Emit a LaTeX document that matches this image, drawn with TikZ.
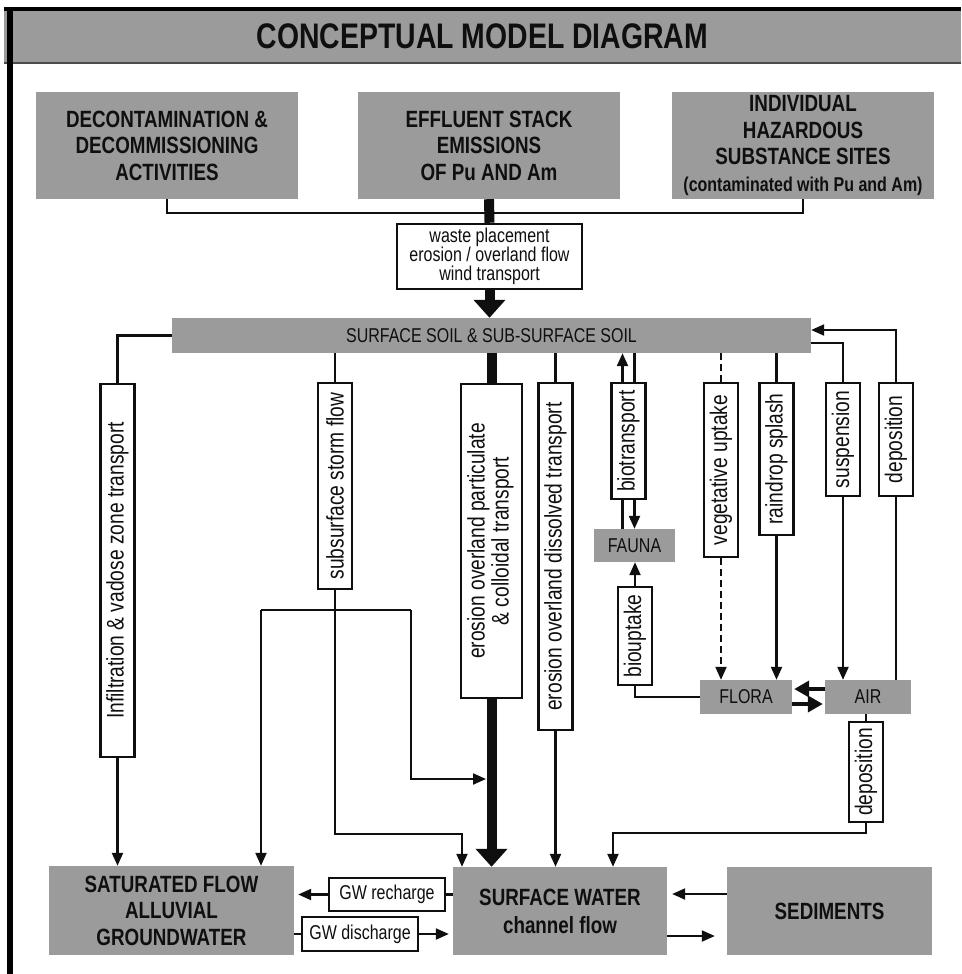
\documentclass[tikz,border=0pt]{standalone}
\usepackage{fontspec}
\setmainfont{Liberation Sans}[FakeStretch=0.8]
\usetikzlibrary{arrows.meta,calc}
\definecolor{boxgray}{RGB}{155,155,155}
\definecolor{ink}{RGB}{15,15,15}
\tikzset{
  gbox/.style={fill=boxgray, draw=none, inner sep=0pt, align=center, text=ink},
  wbox/.style={draw=ink, line width=2.5pt, fill=white, inner sep=0pt, align=center, text=ink},
  vbox/.style={wbox, minimum width=34pt, font=\fontsize{24}{25}\selectfont},
  conn/.style={draw=ink, line width=2.2pt},
  arr/.style={conn, -{Triangle[length=13pt,width=11pt]}},
  tarr/.style={draw=ink, line width=4.5pt, -{Triangle[length=15pt,width=16pt]}},
  thick bar/.style={draw=ink, line width=10pt},
  bigfont/.style={font=\fontsize{23.5}{26.5}\selectfont\bfseries},
  lab/.style={font=\fontsize{20}{19}\selectfont},
}
\begin{document}
\begin{tikzpicture}[x=1pt,y=-1pt]
\useasboundingbox (0,0) rectangle (961,974);
\fill[white] (0,0) rectangle (961,974);
% title bar and frame
\node[gbox, minimum width=957pt, minimum height=54pt, font=\fontsize{35.5}{36}\selectfont\bfseries] (title) at (482.5,36) {CONCEPTUAL MODEL DIAGRAM};
\draw[black!70, line width=2pt] (title.south west) -- (title.south east);
\draw[black, line width=4pt] (title.north west) -- (title.north east);
\draw[black, line width=6pt] (10,9) -- (10,974);
% top sources
\node[gbox, bigfont, minimum width=262pt, minimum height=107pt] (decon) at (167,145.5) {DECONTAMINATION \&\\DECOMMISSIONING\\ACTIVITIES};
\node[gbox, bigfont, minimum width=262pt, minimum height=107pt] (eff) at (489,145.5) {EFFLUENT STACK\\EMISSIONS\\OF Pu AND Am};
\node[gbox, bigfont, minimum width=262pt, minimum height=107pt] (ind) at (803,145.5) {INDIVIDUAL\\HAZARDOUS\\SUBSTANCE SITES\\{\fontsize{20}{22}\selectfont(contaminated with Pu and Am)}};
\node[wbox, lab, minimum width=185pt, minimum height=65pt] (waste) at (489.5,256.5) {waste placement\\erosion / overland flow\\wind transport};
\node[gbox, lab, minimum width=639pt, minimum height=35pt] (soil) at (491.5,335.5) {SURFACE SOIL \& SUB-SURFACE SOIL};
% vertical process boxes
\node[vbox, minimum height=373pt] (infil) at (117.5,570.5) {\rotatebox{90}{Infiltration \& vadose zone transport}};
\node[vbox, minimum height=206pt] (subs) at (335,486) {\rotatebox{90}{subsurface storm flow}};
\node[vbox, minimum width=61pt, minimum height=314pt] (part) at (491.5,541) {\rotatebox{90}{\begin{tabular}{@{}c@{}}erosion overland particulate\\[-1pt]\& colloidal transport\end{tabular}}};
\node[vbox, minimum height=347pt] (diss) at (555.5,556.5) {\rotatebox{90}{erosion overland dissolved transport}};
\node[vbox, minimum height=116pt] (bio) at (628.5,441) {\rotatebox{90}{biotransport}};
\node[vbox, minimum height=98pt] (bup) at (635,636) {\rotatebox{90}{biouptake}};
\node[vbox, minimum height=174pt] (veg) at (721,470) {\rotatebox{90}{vegetative uptake}};
\node[vbox, minimum height=152pt] (rain) at (776.5,459) {\rotatebox{90}{raindrop splash}};
\node[vbox, minimum height=113pt] (susp) at (843,439.5) {\rotatebox{90}{suspension}};
\node[vbox, minimum height=113pt] (dep) at (896,439.5) {\rotatebox{90}{deposition}};
\node[vbox, minimum height=100pt] (dep2) at (866,772) {\rotatebox{90}{deposition}};
% compartments
\node[gbox, lab, minimum width=81pt, minimum height=33pt] (fauna) at (634.5,545.5) {FAUNA};
\node[gbox, lab, minimum width=92pt, minimum height=34pt] (flora) at (746,697) {FLORA};
\node[gbox, lab, minimum width=86pt, minimum height=34pt] (air) at (868,697) {AIR};
\node[gbox, bigfont, minimum width=245pt, minimum height=89pt] (sat) at (171.5,910.5) {SATURATED FLOW\\ALLUVIAL\\GROUNDWATER};
\node[gbox, bigfont, font=\fontsize{23.5}{28}\selectfont\bfseries, minimum width=214pt, minimum height=88pt] (sw) at (560,911) {SURFACE WATER\\channel flow};
\node[gbox, bigfont, minimum width=205pt, minimum height=88pt] (sed) at (829.5,911) {SEDIMENTS};
\node[wbox, lab, minimum width=116pt, minimum height=33pt] (rech) at (387,894.5) {GW recharge};
\node[wbox, lab, minimum width=116pt, minimum height=34pt] (dis) at (360,934) {GW discharge};
% top connectors
\draw[conn] (decon.south) -- ++(0,14) -| (ind.south);
\draw[thick bar] (eff.south) -- (waste.north);
\draw[thick bar, -{Triangle[length=18pt,width=31pt]}] (waste.south) -- (waste.south |- soil.north);
% infiltration
\draw[conn] (soil.west) -| (infil.north);
\draw[arr] (infil.south) -- (infil.south |- sat.north);
% subsurface storm flow
\coordinate (j1) at (335,610);
\coordinate (jl) at (261,610);
\coordinate (jr) at (411,610);
\coordinate (c2) at (462,834);
\coordinate (tk) at (486,779);
\draw[conn] (soil.south -| subs.north) -- (subs.north);
\draw[conn] (subs.south) -- (j1);
\draw[conn] (jl) -- (jr);
\draw[arr] (jl) -- (jl |- sat.north);
\draw[arr] (j1) |- (c2) -- (c2 |- sw.north);
\draw[arr] (jr) |- (tk);
% particulate (thick)
\draw[thick bar] (soil.south -| part.north) -- (part.north);
\draw[thick bar, -{Triangle[length=18pt,width=31pt]}] (part.south) -- (part.south |- sw.north);
% dissolved
\draw[conn] (soil.south -| diss.north) -- (diss.north);
\draw[arr] (diss.south) -- (diss.south |- sw.north);
% biotransport
\coordinate (bL) at ($(bio.north)+(-6,0)$);
\coordinate (bR) at ($(bio.north)+(6,0)$);
\coordinate (bLs) at ($(bio.south)+(-6,0)$);
\coordinate (bRs) at ($(bio.south)+(6,0)$);
\draw[arr] (bL) -- (bL |- soil.south);
\draw[conn] (bR |- soil.south) -- (bR);
\draw[conn] (bLs |- fauna.north) -- (bLs);
\draw[arr] (bRs) -- (bRs |- fauna.north);
% biouptake
\draw[arr] (bup.north) -- (bup.north |- fauna.south);
\draw[conn] (bup.south) |- (flora.west);
% vegetative uptake (dashed)
\draw[conn, dash pattern=on 7pt off 4pt] (soil.south -| veg.north) -- (veg.north);
\draw[arr, dash pattern=on 7pt off 4pt] (veg.south) -- (veg.south |- flora.north);
% raindrop splash
\draw[conn] (soil.south -| rain.north) -- (rain.north);
\draw[arr] (rain.south) -- (rain.south |- flora.north);
% suspension
\coordinate (se1) at ($(soil.east)+(0,7.5)$);
\draw[conn] (se1) -| (susp.north);
\draw[arr] (susp.south) -- (susp.south |- air.north);
% deposition to soil
\coordinate (se2) at ($(soil.east)+(0,-5.5)$);
\draw[conn] (air.north -| dep.south) -- (dep.south);
\draw[arr] (dep.north) |- (se2);
% flora <-> air
\draw[tarr] ($(air.west)+(0,-8)$) -- ($(flora.east)+(2,-8)$);
\draw[tarr] ($(flora.east)+(0,7)$) -- ($(air.west)+(-2,7)$);
% deposition to surface water
\coordinate (d2) at (613,833);
\draw[conn] (air.south -| dep2.north) -- (dep2.north);
\draw[arr] (dep2.south) |- (d2) -- (d2 |- sw.north);
% sediments <-> surface water
\draw[arr] ($(sed.west)+(0,-17)$) -- ($(sw.east)+(5,-17)$);
\draw[arr] ($(sw.east)+(0,25)$) -- ($(sed.west)+(-12,25)$);
% groundwater exchanges
\coordinate (rt) at (rech.west -| sat.east);
\coordinate (dt) at (dis.east -| sw.west);
\draw[conn] (sw.west |- rech.east) -- (rech.east);
\draw[arr] (rech.west) -- ($(rt)+(4,0)$);
\draw[conn] (sat.east |- dis.west) -- (dis.west);
\draw[arr] (dis.east) -- ($(dt)+(-4,0)$);
\end{tikzpicture}
\end{document}
